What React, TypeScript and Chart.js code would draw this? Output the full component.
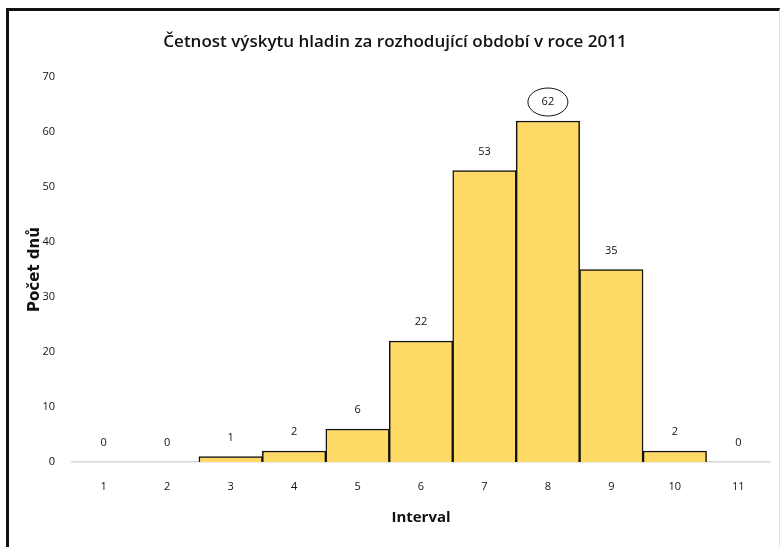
import React, { useEffect, useRef } from "react";
import { Chart, registerables } from "chart.js";

Chart.register(...registerables);

const categories = ["1", "2", "3", "4", "5", "6", "7", "8", "9", "10", "11"];
const dayCounts = [0, 0, 1, 2, 6, 22, 53, 62, 35, 2, 0];
const yTicks = [0, 10, 20, 30, 40, 50, 60, 70];

const chartTitle = "Četnost výskytu hladin za rozhodující období v roce 2011";
const xTitle = "Interval";
const yTitle = "Počet dnů";

const textFont = "'Open Sans', 'Liberation Sans', sans-serif";

// Draws the chart heading, value labels above each bar and the ellipse around the peak value
const overlayPlugin = {
  id: "overlay",
  afterDatasetsDraw(chart: any) {
    const { ctx } = chart;
    const meta = chart.getDatasetMeta(0);
    ctx.save();
    ctx.fillStyle = "#111";
    ctx.font = `600 17px ${textFont}`;
    ctx.textAlign = "center";
    ctx.textBaseline = "middle";
    ctx.fillText(chartTitle, 395, 42);

    ctx.font = `11px ${textFont}`;
    const maxVal = Math.max(...dayCounts);
    meta.data.forEach((bar: any, i: number) => {
      const v = dayCounts[i];
      const y = bar.y - 19;
      ctx.fillStyle = "#111";
      ctx.fillText(String(v), bar.x, y);
      if (v === maxVal) {
        ctx.beginPath();
        ctx.ellipse(bar.x, y, 20, 14, 0, 0, Math.PI * 2);
        ctx.strokeStyle = "#111";
        ctx.lineWidth = 1;
        ctx.stroke();
      }
    });
    ctx.restore();
  },
};

export default function App() {
  const canvasRef = useRef<HTMLCanvasElement>(null);

  useEffect(() => {
    if (!canvasRef.current) return;
    const chart = new Chart(canvasRef.current, {
      type: "bar",
      data: {
        labels: categories,
        datasets: [
          {
            data: dayCounts,
            backgroundColor: "#FFD966",
            borderColor: "#111",
            borderWidth: 1.5,
            categoryPercentage: 1,
            barPercentage: 1,
          },
        ],
      },
      options: {
        responsive: false,
        animation: false,
        layout: { padding: { top: 77, right: 12, left: 0, bottom: 0 } },
        plugins: {
          legend: { display: false },
          title: { display: false },
          tooltip: { enabled: false },
        },
        scales: {
          x: {
            grid: { display: false, drawTicks: false },
            border: { display: true, color: "#d9d9d9", width: 1.5 },
            ticks: { color: "#111", font: { family: textFont, size: 11 }, padding: 18 },
            title: {
              display: true,
              text: xTitle,
              color: "#111",
              font: { family: textFont, size: 15, weight: "bold" },
              padding: { top: 20, bottom: 20 },
            },
            afterFit(scale: any) {
              scale.height = 85;
            },
          },
          y: {
            min: 0,
            max: 70,
            grid: { display: false, drawTicks: false },
            border: { display: false },
            afterBuildTicks(scale: any) {
              scale.ticks = yTicks.map((v) => ({ value: v }));
            },
            ticks: { color: "#111", font: { family: textFont, size: 11 }, padding: 17 },
            title: {
              display: true,
              text: yTitle,
              color: "#111",
              font: { family: "'DejaVu Sans', sans-serif", size: 15, weight: "bold" },
              padding: { top: 26, bottom: 26 },
            },
            afterFit(scale: any) {
              scale.width = 72;
            },
          },
        },
      },
      plugins: [overlayPlugin],
    });
    return () => chart.destroy();
  }, []);

  return (
    <div style={{ position: "absolute", left: 0, top: 0, width: 782, height: 547, background: "#fff", overflow: "hidden" }}>
      <canvas ref={canvasRef} width={782} height={547} style={{ position: "absolute", left: 0, top: 0 }} />
      <div
        style={{
          position: "absolute",
          left: 6,
          top: 8,
          width: 774,
          height: 560,
          borderTop: "3px solid #111",
          borderLeft: "3px solid #111",
          borderRight: "1px solid #e0e0e0",
          boxSizing: "border-box",
          pointerEvents: "none",
        }}
      />
    </div>
  );
}
